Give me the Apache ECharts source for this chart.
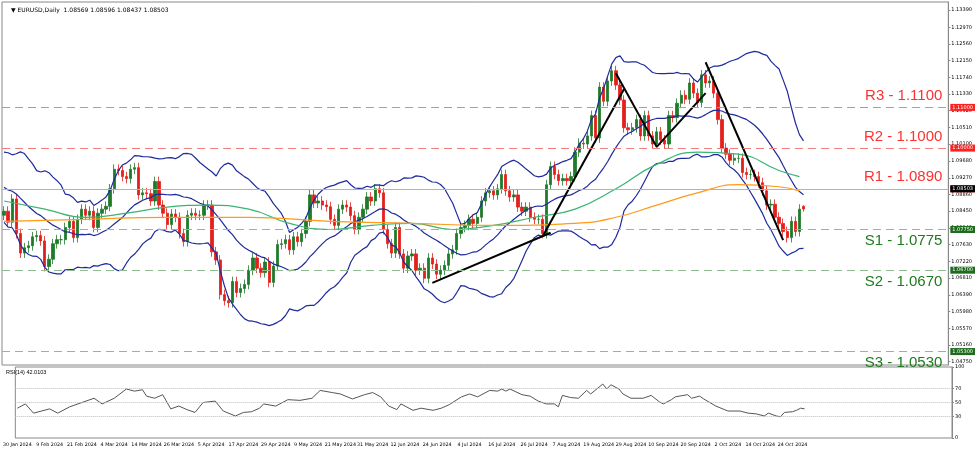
<!DOCTYPE html>
<html>
<head>
<meta charset="utf-8">
<script src="https://cdn.jsdelivr.net/npm/echarts@6/dist/echarts.min.js"></script>
<style>html,body{margin:0;padding:0;background:#fff}#main{width:975px;height:452px}</style>
</head>
<body>
<div id="main"></div>
<script>
// closes, month by month
var prelude = [1.0950,1.0940,1.0925,1.0945,1.0955,1.0975,1.0950,1.0955,1.0880,1.0875,1.0890,1.0900,1.0880,1.0885,1.0925,1.0835,1.0850,1.0880,1.0835];
var closeJan = [1.0845,1.0818];
var closeFeb = [1.0875,1.0790,1.0742,1.0755,1.0760,1.0782,1.0785,1.0772,1.0709,1.0727,1.0765,1.0775,1.0775,1.0805,1.0820,1.0780,1.0825,1.0850,1.0835,1.0845,1.0805];
var closeMar = [1.0840,1.0850,1.0857,1.0900,1.0948,1.0945,1.0930,1.0925,1.0948,1.0952,1.0885,1.0890,1.0888,1.0870,1.0918,1.0860,1.0840,1.0812,1.0838,1.0830,1.0790];
var closeApr = [1.0770,1.0835,1.0840,1.0835,1.0835,1.0860,1.0860,1.0745,1.0725,1.0640,1.0625,1.0620,1.0672,1.0645,1.0655,1.0665,1.0700,1.0730,1.0705,1.0694,1.0720,1.0670];
var closeMay = [1.0710,1.0763,1.0765,1.0775,1.0750,1.0782,1.0770,1.0790,1.0820,1.0885,1.0865,1.0870,1.0860,1.0856,1.0825,1.0810,1.0850,1.0860,1.0855,1.0834,1.0800,1.0830,1.0850];
var closeJun = [1.0880,1.0870,1.0900,1.0890,1.0800,1.0765,1.0742,1.0805,1.0740,1.0705,1.0735,1.0740,1.0700,1.0705,1.0680,1.0730,1.0715,1.0690,1.0700,1.0712];
var closeJul = [1.0740,1.0750,1.0790,1.0805,1.0810,1.0825,1.0815,1.0830,1.0870,1.0890,1.0895,1.0885,1.0900,1.0935,1.0895,1.0880,1.0885,1.0855,1.0845,1.0855,1.0830,1.0825,1.0825];
var closeAug = [1.0790,1.0910,1.0955,1.0935,1.0920,1.0925,1.0920,1.0930,1.0990,1.1012,1.1010,1.1030,1.1080,1.1025,1.1150,1.1115,1.1165,1.1190,1.1155,1.1118,1.1050,1.1045];
var closeSep = [1.1050,1.1070,1.1030,1.1080,1.1030,1.1010,1.1040,1.1020,1.1010,1.1080,1.1075,1.1110,1.1130,1.1120,1.1160,1.1135,1.1112,1.1180,1.1160,1.1165,1.1135];
var closeOct = [1.1070,1.1000,1.0985,1.0970,1.0975,1.0975,1.0940,1.0935,1.0935,1.0930,1.0915,1.0895,1.0860,1.0862,1.0830,1.0815,1.0795,1.0780,1.0820,1.0795,1.0850];
var lastBar = [1.08569, 1.08503, 1.08437, 1.08596]; // O C L H
var wick = 0.0012;

var greenIdx = [0,10,20,30,40,50,60,70,80,90,100,110,120,130,140,150,160,170,180,190,195];
var greenVal = [1.0870,1.0850,1.0830,1.0840,1.0855,1.0860,1.0850,1.0815,1.0800,1.0810,1.0815,1.0800,1.0810,1.0830,1.0850,1.0900,1.0960,1.0990,1.0985,1.0945,1.0930];
var orangeIdx = [0,20,40,60,80,100,120,140,150,160,170,180,190,195];
var orangeVal = [1.0820,1.0825,1.0830,1.0830,1.0820,1.0815,1.0810,1.0815,1.0830,1.0860,1.0890,1.0910,1.0905,1.0895];

var rsiPts = [[0,42],[2,48],[4,35],[8,41],[10,35],[13,44],[16,50],[19,56],[21,48],[24,56],[27,69],[29,66],[31,68],[32,59],[34,56],[36,61],[38,41],[40,45],[42,40],[44,36],[46,50],[49,52],[51,38],[54,31],[56,36],[58,37],[60,42],[61,48],[64,45],[67,54],[70,53],[73,56],[75,67],[78,64],[80,62],[83,55],[86,61],[88,64],[90,58],[92,45],[94,40],[95,48],[98,39],[100,42],[103,39],[105,42],[107,47],[110,58],[112,62],[114,58],[117,67],[119,66],[120,69],[121,66],[122,69],[125,61],[127,59],[129,52],[131,48],[133,48],[134,44],[135,60],[137,57],[139,56],[141,67],[142,62],[145,76],[146,69],[147,75],[149,69],[150,62],[152,56],[155,56],[157,60],[159,51],[160,48],[162,54],[163,58],[166,61],[167,56],[169,59],[170,55],[173,45],[176,38],[179,38],[181,35],[183,34],[185,31],[186,35],[188,31],[189,30],[190,36],[192,37],[193,39],[194,42],[195,41]];

var trendLines = [
  [[105,1.0669],[134,1.0792]],
  [[132,1.0782],[152,1.1145]],
  [[150,1.1184],[160,1.1003]],
  [[160,1.1003],[172,1.1135]],
  [[172,1.1211],[191,1.0774]]
];

var levels = [
  {v:1.1100, name:'R3 - 1.1100', tag:'1.11000', c:'#ff3030', lc:'#f08080'},
  {v:1.1000, name:'R2 - 1.1000', tag:'1.10000', c:'#ff3030', lc:'#f08080'},
  {v:1.0890, name:'R1 - 1.0890', tag:'1.08900', c:'#ff3030', lc:'#f08080'},
  {v:1.0775, name:'S1 - 1.0775', tag:'1.07750', c:'#1e7b1e', lc:'#8fbc8f'},
  {v:1.0670, name:'S2 - 1.0670', tag:'1.06700', c:'#1e7b1e', lc:'#8fbc8f'},
  {v:1.0530, name:'S3 - 1.0530', tag:'1.05300', c:'#1e7b1e', lc:'#8fbc8f'}
];
var priceTicks = [1.13390,1.12970,1.12560,1.12150,1.11740,1.11330,1.10920,1.10510,1.10100,1.09680,1.09270,1.08860,1.08450,1.08040,1.07630,1.07220,1.06810,1.06390,1.05980,1.05570,1.05160,1.04750];
var dateTicks = ['30 Jan 2024','9 Feb 2024','21 Feb 2024','4 Mar 2024','14 Mar 2024','26 Mar 2024','5 Apr 2024','17 Apr 2024','29 Apr 2024','9 May 2024','21 May 2024','31 May 2024','12 Jun 2024','24 Jun 2024','4 Jul 2024','16 Jul 2024','26 Jul 2024','7 Aug 2024','19 Aug 2024','29 Aug 2024','10 Sep 2024','20 Sep 2024','2 Oct 2024','14 Oct 2024','24 Oct 2024'];

// build dates (weekdays 30 Jan - 29 Oct 2024)
var mon = ['Jan','Feb','Mar','Apr','May','Jun','Jul','Aug','Sep','Oct','Nov','Dec'];
var dates = [];
var d = new Date(Date.UTC(2024,0,30));
while (d <= new Date(Date.UTC(2024,9,29))) {
  var wd = d.getUTCDay();
  if (wd != 0 && wd != 6) dates.push(d.getUTCDate() + ' ' + mon[d.getUTCMonth()] + ' 2024');
  d = new Date(d.getTime() + 86400000);
}
var closes = [].concat(closeJan,closeFeb,closeMar,closeApr,closeMay,closeJun,closeJul,closeAug,closeSep,closeOct);
closes.push(lastBar[1]);
var cats = dates.slice();
for (var i = 0; i < 36; i++) cats.push('');

var ohlc = [];
for (var i = 0; i < closes.length; i++) {
  var o = i == 0 ? prelude[prelude.length-1] : closes[i-1];
  var c = closes[i];
  if (i == closes.length-1) { ohlc.push(lastBar); continue; }
  ohlc.push([o, c, Math.min(o,c)-wick, Math.max(o,c)+wick]);
}

// bollinger 20,2
var all = prelude.concat(closes);
var bbU = [], bbM = [], bbL = [];
for (var i = 0; i < closes.length; i++) {
  var w = all.slice(i, i+20);
  var m = w.reduce(function(a,b){return a+b;},0)/20;
  var s = Math.sqrt(w.reduce(function(a,b){return a+(b-m)*(b-m);},0)/20);
  bbU.push(+(m+2*s).toFixed(5)); bbM.push(+m.toFixed(5)); bbL.push(+(m-2*s).toFixed(5));
}
function pairs(idx, val){ return idx.map(function(x,k){return [x,val[k]];}); }

var mlData = [];
levels.forEach(function(l){
  mlData.push({yAxis:l.v, lineStyle:{color:l.lc,type:[8,5],width:1.2},
    label:{show:true, position: l.c=='#ff3030' ? 'insideEndTop':'insideEndBottom', formatter:l.name, color:l.c, fontSize:15, fontFamily:'Liberation Sans', distance:[6,4]}});
  mlData.push({yAxis:l.v, lineStyle:{color:'rgba(0,0,0,0)', width:0},
    label:{show:true, position:'end', formatter:l.tag, color:'#fff', backgroundColor:l.c=='#ff3030'?'#ff2020':'#1e6b1e', fontSize:5, padding:[1,2], distance:2}});
});
mlData.push({yAxis:1.08503, lineStyle:{color:'#a8b4c8',type:'solid',width:1},
  label:{show:true, position:'end', formatter:'1.08503', color:'#fff', backgroundColor:'#000', fontSize:5, padding:[1,2], distance:2}});

var series = [
  {type:'candlestick', data:ohlc, barWidth:2.8,
   itemStyle:{color:'#1f7a2a', color0:'#e3201b', borderColor:'#1f7a2a', borderColor0:'#e3201b', borderWidth:0.8},
   markLine:{symbol:'none', silent:true, data:mlData, animation:false}},
  {type:'line', data:bbU, symbol:'none', lineStyle:{color:'#1f2a9c',width:1.2}},
  {type:'line', data:bbM, symbol:'none', lineStyle:{color:'#1f2a9c',width:1.2}},
  {type:'line', data:bbL, symbol:'none', lineStyle:{color:'#1f2a9c',width:1.2}},
  {type:'line', data:pairs(greenIdx,greenVal), smooth:true, symbol:'none', lineStyle:{color:'#3cb371',width:1.2}},
  {type:'line', data:pairs(orangeIdx,orangeVal), smooth:true, symbol:'none', lineStyle:{color:'#ff9a1a',width:1.2}},
  {type:'line', xAxisIndex:1, yAxisIndex:1, data:rsiPts, symbol:'none', lineStyle:{color:'#555',width:1},
   markLine:{symbol:'none', silent:true, label:{show:false}, lineStyle:{color:'#bbb',type:'dotted',width:1}, data:[{yAxis:70},{yAxis:50},{yAxis:30}]}}
];
trendLines.forEach(function(t){
  series.push({type:'line', data:t, symbol:'none', lineStyle:{color:'#000',width:2}});
});

var chart = echarts.init(document.getElementById('main'));
chart.setOption({
  animation:false,
  textStyle:{fontFamily:'DejaVu Sans'},
  title:{text:'\u25BC EURUSD,Daily  1.08569 1.08596 1.08437 1.08503', left:6, top:2, textStyle:{fontSize:6, fontWeight:'normal', color:'#000'}},
  grid:[{left:2, right:23, top:2, height:363, show:true, borderColor:'#888'},
        {left:2, right:23, top:367, height:71, show:true, borderColor:'#888'}],
  xAxis:[
    {type:'category', data:cats, gridIndex:0, axisLabel:{show:false}, axisTick:{show:false}, axisLine:{show:false}},
    {type:'category', data:cats, gridIndex:1, axisLine:{show:false},
     axisTick:{show:false}, axisLabel:{fontSize:4.8, color:'#000', margin:4, hideOverlap:false,
       interval:function(i,v){return dateTicks.indexOf(v) >= 0;}}}
  ],
  yAxis:[
    {type:'value', gridIndex:0, position:'right', min:1.0467, max:1.1359, splitLine:{show:false},
     axisLine:{show:true, lineStyle:{color:'#888'}},
     axisTick:{show:true, customValues:priceTicks, length:2},
     axisLabel:{customValues:priceTicks, fontSize:5, color:'#000', margin:3, formatter:function(v){return v.toFixed(5);}}},
    {type:'value', gridIndex:1, position:'right', min:0, max:100, splitLine:{show:false},
     axisLine:{show:true, lineStyle:{color:'#888'}},
     axisTick:{show:true, customValues:[0,30,50,70,100], length:2},
     axisLabel:{customValues:[0,30,50,70,100], fontSize:5, color:'#000', margin:3}}
  ],
  graphic:[{type:'text', left:6, top:369, style:{text:'RSI(14) 42.0103', fontSize:5.5, fill:'#000'}}],
  series:series
});
</script>
</body>
</html>
